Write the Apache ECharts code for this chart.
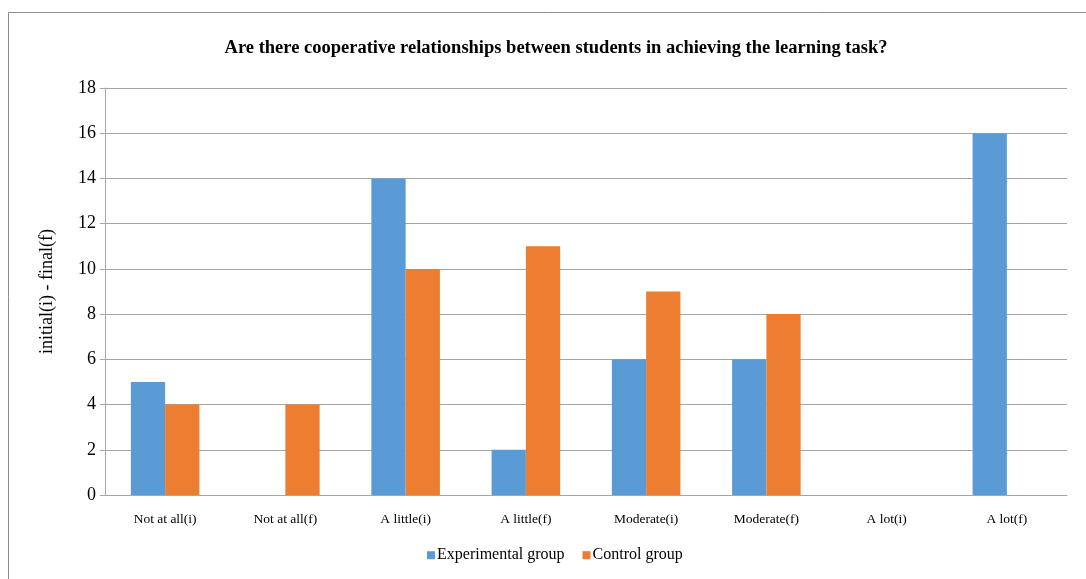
<!doctype html>
<html>
<head>
    <title>Cooperative relationships</title>
    <script src="https://cdn.jsdelivr.net/npm/echarts@6/dist/echarts.min.js"></script>
</head>
<style>
    html, body { margin: 0; padding: 0; background: #fff; }
    #chart { width: 1086px; height: 579px; }
</style>
<body>
<div id="chart"></div>
<script>
  var categories = ['Not at all(i)', 'Not at all(f)', 'A little(i)', 'A little(f)',
    'Moderate(i)', 'Moderate(f)', 'A lot(i)', 'A lot(f)'];
  var experimental = [5, 0, 14, 2, 6, 6, 0, 16];
  var control = [4, 4, 10, 11, 9, 8, 0, 0];

  var font = '"Liberation Serif", "Times New Roman", serif';
  var myChart = echarts.init(document.getElementById('chart'));

  var option = {
    animation: false,
    textStyle: { fontFamily: font, color: '#000' },
    title: {
      text: 'Are there cooperative relationships between students in achieving the learning task?',
      left: 551,
      textAlign: 'center',
      top: 29,
      textStyle: { fontFamily: font, fontSize: 18.5, fontWeight: 'bold', color: '#000' }
    },
    graphic: [{
      type: 'rect',
      shape: { x: 8.5, y: 12.5, width: 1100, height: 600 },
      style: { fill: null, stroke: '#8c8c8c', lineWidth: 1 },
      silent: true
    }],
    legend: {
      left: 422,
      top: 538,
      itemWidth: 8,
      itemHeight: 8,
      itemGap: 18,
      icon: 'rect',
      textStyle: { fontFamily: font, fontSize: 16, color: '#000', padding: [0, 0, 0, -3] },
      data: ['Experimental group', 'Control group']
    },
    grid: { left: 105, right: 19, top: 88, bottom: 84 },
    xAxis: {
      type: 'category',
      data: categories,
      axisLine: { lineStyle: { color: '#a6a6a6', width: 1 } },
      axisTick: { show: false },
      axisLabel: { fontFamily: font, fontSize: 13.5, color: '#000', margin: 14, interval: 0 }
    },
    yAxis: {
      type: 'value',
      min: 0,
      max: 18,
      interval: 2,
      name: 'initial(i) - final(f)',
      nameLocation: 'middle',
      nameGap: 44,
      nameTextStyle: { fontFamily: font, fontSize: 18, color: '#000' },
      axisLine: { show: true, lineStyle: { color: '#a6a6a6', width: 1 } },
      axisTick: { show: true, length: 5, lineStyle: { color: '#a6a6a6' } },
      axisLabel: { fontFamily: font, fontSize: 18, color: '#000', margin: 9 },
      splitLine: { lineStyle: { color: '#a6a6a6', width: 1 } }
    },
    series: [{
      name: 'Experimental group',
      type: 'bar',
      data: experimental,
      barGap: '0%',
      barCategoryGap: '43%',
      itemStyle: { color: '#5b9bd5' }
    }, {
      name: 'Control group',
      type: 'bar',
      data: control,
      barGap: '0%',
      barCategoryGap: '43%',
      itemStyle: { color: '#ed7d31' }
    }]
  };

  myChart.setOption(option);
</script>
</body>
</html>
